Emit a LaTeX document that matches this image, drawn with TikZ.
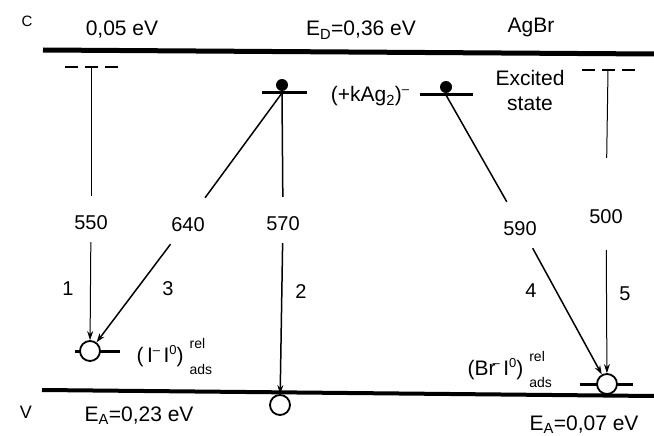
\documentclass[tikz,border=0pt]{standalone}
\usepackage{amsmath}
\usepackage{fontspec}
\setmainfont{Liberation Sans}
\usetikzlibrary{arrows.meta}
\usetikzlibrary{positioning}
\newcommand{\upsc}[1]{\raisebox{8pt}{\fontsize{13}{15}\selectfont #1}}
\newcommand{\relads}{\hspace{6pt}\raisebox{14pt}{\rlap{\fontsize{14}{16}\selectfont rel}}\raisebox{-12pt}{\fontsize{14}{16}\selectfont ads}}
\tikzset{
band_line/.style={line width=5pt},
level_bar/.style={line width=3pt},
dash_level/.style={line width=1.2pt, dash pattern=on 13pt off 7pt},
electron/.style={circle, fill=black, inner sep=0pt, minimum size=12pt},
hole/.style={circle, draw, line width=1.8pt, fill=white, inner sep=0pt, minimum size=20pt},
emission/.style={line width=1.5pt},
emission_thin/.style={line width=1pt},
arrow_tip/.style={-{Stealth[length=9pt, width=6pt]}},
wavelength/.style={font=\fontsize{20}{24}\selectfont, anchor=base, inner ysep=0pt, inner xsep=3pt, text height=33pt, text depth=13pt},
step_no/.style={font=\fontsize{20}{24}\selectfont, anchor=base},
caption/.style={font=\fontsize{21}{25}\selectfont, anchor=base}
}
\begin{document}
\begin{tikzpicture}[x=1pt, y=-1pt]
    \useasboundingbox (0,0) rectangle (654,436);
    % bands
    \draw[band_line] (43,50) -- (654,54);
    \draw[band_line, line width=4pt] (42,390) -- (654,396);
    \node[caption, font=\fontsize{15}{17}\selectfont] (c_lbl) at (27,27) {C};
    \node[caption, font=\fontsize{18}{20}\selectfont] (v_lbl) at (26,418) {V};
    \node[caption] (e_cb) at (122,36) {0,05 eV};
    \node[caption] (e_d) at (361,36) {E$_{\text{D}}$=0,36 eV};
    \node[caption] (agbr) at (531,33) {AgBr};
    \node[caption] (e_a1) at (139,421) {E$_{\text{A}}$=0,23 eV};
    \node[caption] (e_a2) at (584,430) {E$_{\text{A}}$=0,07 eV};
    \node[caption, anchor=center, align=center] (excited) at (530,90) {Excited\\state};
    \node[caption] (kag) at (370,102) {(+kAg$_{\text{2}}$)\upsc{\textendash}};
    % excited levels
    \coordinate (d1) at (91,67);
    \coordinate (d5) at (608,70);
    \draw[dash_level] (65,67) -- (118,67);
    \draw[dash_level] (582,70) -- (635,70);
    \coordinate (lvl_d) at (282,93);
    \coordinate (lvl_k) at (446,95);
    \draw[level_bar] (262,93) -- (307,93);
    \draw[level_bar] (420,95) -- (473,95);
    \node[electron] (dot_d) at (282,85) {};
    \node[electron] (dot_k) at (446,87) {};
    % ground states
    \draw[level_bar] (75,351) -- (120,351);
    \node[hole] (h_i) at (90,351) {};
    \node[hole] (h_v) at (280,405) {};
    \draw[level_bar] (580,384) -- (633,384);
    \node[hole] (h_br) at (607,384) {};
    \node[caption, anchor=base west] (i_lbl) at (133,362) {(\,I\upsc{\textendash}\,I\upsc{0})\relads};
    \node[caption, anchor=base west] (br_lbl) at (464,375) {(Br\kern-3pt\upsc{\textendash}\,I\upsc{0})\relads};
    % transitions
    \node[wavelength] (l550) at (91,229) {550};
    \node[wavelength] (l640) at (188,231) {640};
    \node[wavelength] (l570) at (283,230) {570};
    \node[wavelength] (l590) at (520,235) {590};
    \node[wavelength, text height=65pt, text depth=27pt] (l500) at (606,223) {500};
    \draw[emission_thin] (d1) -- (l550);
    \draw[emission_thin, arrow_tip] (l550) -- (h_i);
    \draw[emission] (lvl_d) -- (l640);
    \draw[emission, arrow_tip] (l640) -- (h_i);
    \draw[emission] (lvl_d) -- (l570);
    \draw[emission, arrow_tip] (l570) -- (h_v);
    \draw[emission] (lvl_k) -- (l590);
    \draw[emission, arrow_tip] (l590) -- (h_br);
    \draw[emission_thin] (d5) -- (l500);
    \draw[emission_thin, arrow_tip] (l500) -- (h_br);
    \node[step_no] (s1) at (68,295) {1};
    \node[step_no] (s2) at (301,298) {2};
    \node[step_no] (s3) at (168,295) {3};
    \node[step_no] (s4) at (531,297) {4};
    \node[step_no] (s5) at (625,300) {5};
\end{tikzpicture}
\end{document}
